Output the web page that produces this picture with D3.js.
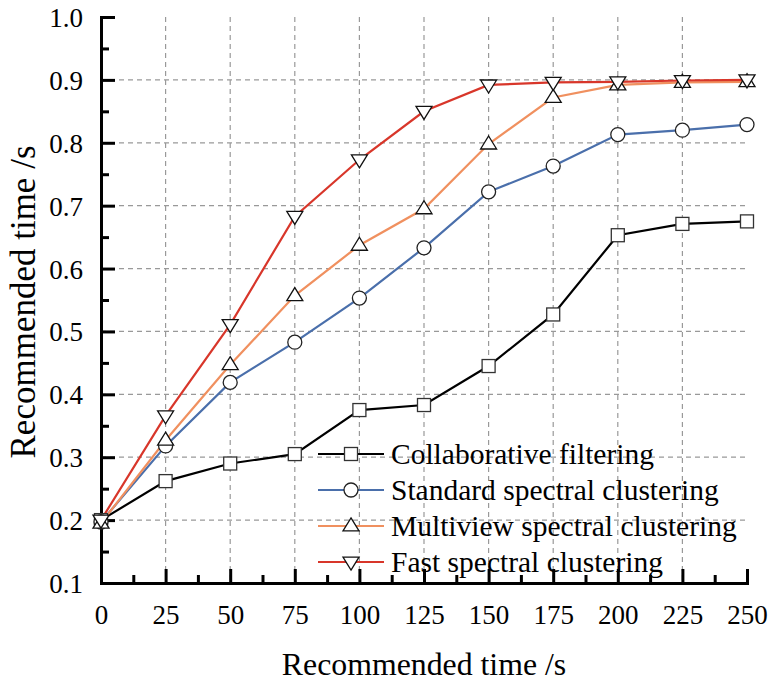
<!DOCTYPE html>
<html>
<head>
<meta charset="utf-8">
<script src="https://cdn.jsdelivr.net/npm/d3@7"></script>
<style>
body{margin:0;background:#fff;}
svg{display:block;}
text{font-family:"Liberation Serif","Times New Roman",serif;fill:#000;}
</style>
</head>
<body>
<svg id="chart" width="770" height="681"></svg>
<script>
const xValues = [0,25,50,75,100,125,150,175,200,225,250];
const collaborative = [0.200,0.262,0.290,0.305,0.375,0.383,0.445,0.527,0.653,0.671,0.675];
const standard = [0.197,0.318,0.419,0.483,0.553,0.633,0.722,0.763,0.813,0.820,0.829];
const multiview = [0.195,0.327,0.447,0.557,0.637,0.695,0.798,0.872,0.892,0.896,0.897];
const fast = [0.200,0.366,0.511,0.683,0.773,0.850,0.892,0.896,0.897,0.899,0.900];
const seriesNames = ["Collaborative filtering","Standard spectral clustering","Multiview spectral clustering","Fast spectral clustering"];
const xTicks = [0,25,50,75,100,125,150,175,200,225,250];
const yTicks = [0.1,0.2,0.3,0.4,0.5,0.6,0.7,0.8,0.9,1.0];
const xLabel = "Recommended time /s";
const yLabel = "Recommended time /s";

const colors = ["#000000","#4a6fab","#f0905f","#d8362a"];
const markers = ["square","circle","up","down"];
const seriesData = [collaborative, standard, multiview, fast];

const FONT = "Liberation Serif";
const svg = d3.select("#chart");
const L = 101, R = 747, T = 17, B = 583;
const x = d3.scaleLinear().domain([0,250]).range([L,R]);
const y = d3.scaleLinear().domain([0.1,1.0]).range([B,T]);

// grid
const grid = svg.append("g");
grid.selectAll(".gx").data(xTicks.filter(d=>d>0 && d<250)).enter().append("line")
  .attr("x1",d=>x(d)).attr("x2",d=>x(d)).attr("y1",T).attr("y2",B)
  .attr("stroke","#999").attr("stroke-width",1.2).attr("stroke-dasharray","5,4");
grid.selectAll(".gy").data(yTicks.filter(d=>d>0.15 && d<0.95)).enter().append("line")
  .attr("x1",L).attr("x2",R).attr("y1",d=>y(d)).attr("y2",d=>y(d))
  .attr("stroke","#999").attr("stroke-width",1.2).attr("stroke-dasharray","5,4");

// axes
const xAxis = d3.axisBottom(x).tickValues(xTicks).tickSize(-14).tickPadding(22).tickFormat(d3.format("d"));
const gx = svg.append("g").attr("transform",`translate(0,${B})`).call(xAxis);
const xMinor = d3.axisBottom(x).tickValues(d3.range(12.5,250,25)).tickSize(-8).tickFormat("");
const gxm = svg.append("g").attr("transform",`translate(0,${B})`).call(xMinor);
const yAxis = d3.axisLeft(y).tickValues(yTicks).tickSize(-14).tickPadding(18).tickFormat(d3.format(".1f"));
const gy = svg.append("g").attr("transform",`translate(${L},0)`).call(yAxis);
const yMinor = d3.axisLeft(y).tickValues(d3.range(0.15,1.0,0.1)).tickSize(-8).tickFormat("");
const gym = svg.append("g").attr("transform",`translate(${L},0)`).call(yMinor);
[gx,gxm,gy,gym].forEach(g=>{
  g.attr("font-family",FONT).attr("font-size",27);
  g.selectAll(".domain").attr("stroke","#000").attr("stroke-width",3);
  g.selectAll(".tick line").attr("stroke","#000").attr("stroke-width",3);
  g.selectAll(".tick text").attr("font-family",FONT).style("font-family",FONT).style("font-size","27px");
});
gx.selectAll(".tick text").attr("dy","0.71em");
gy.selectAll(".tick text").attr("dy","0.35em");

// lines
const line = d3.line().x((d,i)=>x(xValues[i])).y(d=>y(d));
seriesData.forEach((s,k)=>{
  svg.append("path").datum(s).attr("d",line).attr("fill","none")
    .attr("stroke",colors[k]).attr("stroke-width",2.2);
});

function drawMarker(g, type, cx, cy){
  if(type==="square"){
    g.append("rect").attr("x",cx-6.5).attr("y",cy-6.5).attr("width",13).attr("height",13)
      .attr("fill","#fff").attr("stroke","#333").attr("stroke-width",1.3);
  } else if(type==="circle"){
    g.append("circle").attr("cx",cx).attr("cy",cy).attr("r",7)
      .attr("fill","#fff").attr("stroke","#222").attr("stroke-width",1.3);
  } else if(type==="up"){
    const h=13, w=16;
    g.append("path").attr("d",`M${cx},${cy-h*0.62}L${cx+w/2},${cy+h*0.38}L${cx-w/2},${cy+h*0.38}Z`)
      .attr("fill","#fff").attr("stroke","#111").attr("stroke-width",1.3);
  } else {
    const h=13, w=16;
    g.append("path").attr("d",`M${cx},${cy+h*0.62}L${cx+w/2},${cy-h*0.38}L${cx-w/2},${cy-h*0.38}Z`)
      .attr("fill","#fff").attr("stroke","#111").attr("stroke-width",1.3);
  }
}
const mg = svg.append("g");
seriesData.forEach((s,k)=>{
  s.forEach((v,i)=>drawMarker(mg, markers[k], x(xValues[i]), y(v)));
});

// legend
const lg = svg.append("g");
const legY = [454,490,526,562];
seriesNames.forEach((n,k)=>{
  lg.append("line").attr("x1",318).attr("x2",384).attr("y1",legY[k]).attr("y2",legY[k])
    .attr("stroke",colors[k]).attr("stroke-width",2.2);
  drawMarker(lg, markers[k], 351, legY[k]);
  lg.append("text").attr("x",391).attr("y",legY[k]).attr("dy","0.35em")
    .style("font-family",FONT).style("font-size","29.5px").text(n);
});

// axis titles
svg.append("text").attr("x",424).attr("y",675).attr("text-anchor","middle")
  .style("font-family",FONT).style("font-size","31.8px").text(xLabel);
svg.append("text").attr("transform","translate(35,302) rotate(-90)").attr("text-anchor","middle")
  .style("font-family",FONT).style("font-size","35px").text(yLabel);
</script>
</body>
</html>
